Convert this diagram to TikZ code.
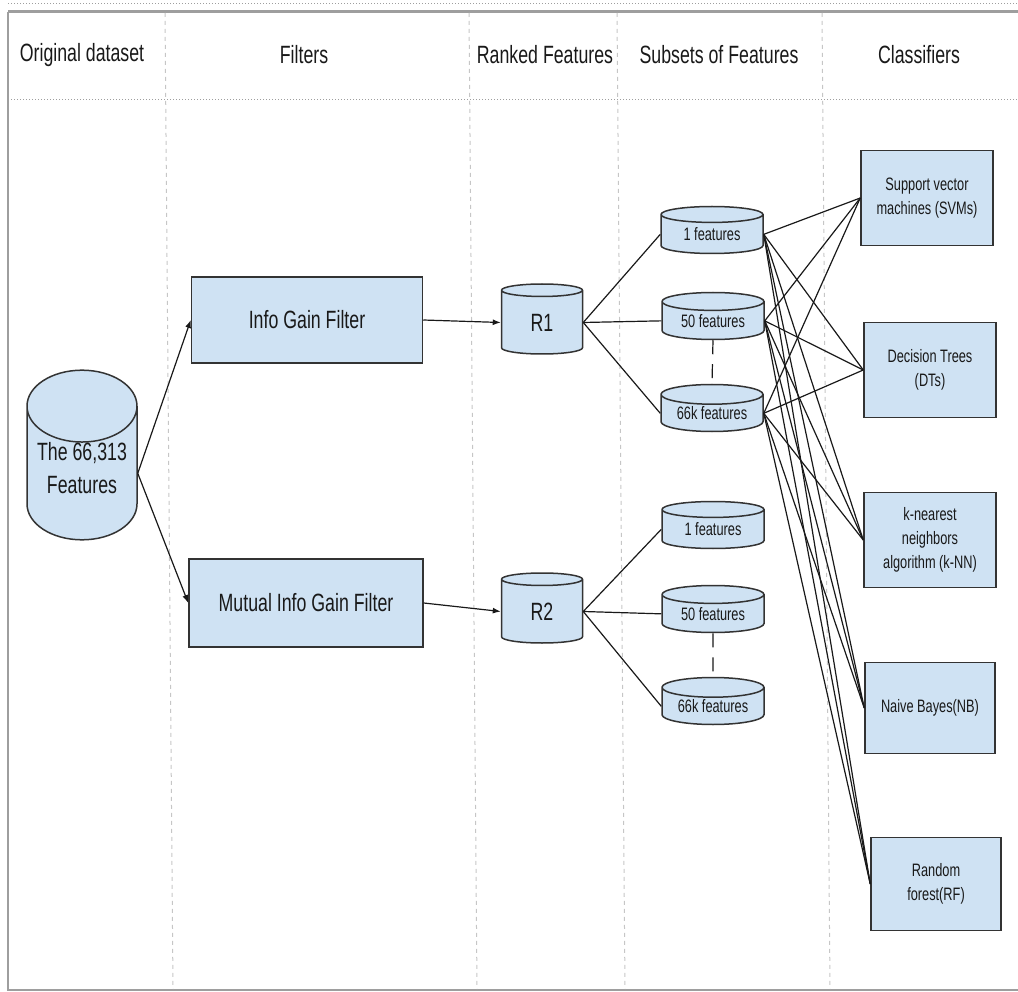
\documentclass[tikz,border=0pt]{standalone}
\usepackage{fontspec}
\setmainfont{Liberation Sans}[FakeStretch=0.71]
\usepackage{tikz}
\usetikzlibrary{
	arrows.meta,
	shapes.geometric,
}
\definecolor{boxblue}{HTML}{CFE2F3}
\definecolor{framegray}{HTML}{9E9E9E}
\tikzset{box node/.style={
	draw=black!80,
	fill=boxblue,
	rectangle,
	line width=1.5pt,
	text=black!90,
	align=center,
	inner sep=0pt,
}}
\tikzset{db node/.style={
	box node,
	cylinder,
	shape border rotate=90,
	anchor=shape center,
}}
\tikzset{big text/.style={
	font=\fontsize{25}{33}\selectfont,
}}
\tikzset{small text/.style={
	font=\fontsize{18}{24}\selectfont,
}}
\tikzset{header/.style={
	big text,
	text=black!90,
}}
\tikzset{link/.style={
	draw=black!90,
	line width=1.2pt,
}}
\tikzset{separator/.style={
	draw=gray!45,
	line width=1pt,
	dash pattern=on 4pt off 4pt,
}}

\begin{document}
\begin{tikzpicture}[x=1pt, y=-1pt]
\useasboundingbox (0,0) rectangle (1018,992);

% frame
\draw[framegray, line width=1pt, dotted] (8,4) -- (1018,4);
\draw[framegray, line width=3pt] (8,12) -- (1018,12);
\draw[framegray, line width=2.5pt] (8,12) -- (8,990) -- (1018,990);
\draw[framegray, line width=1pt, dotted] (8,100) -- (1018,100);

% column separators
\foreach \x in {165,469,617,822}
	\draw[separator] (\x,13) -- (\x+8,989);

% headers
\node[header](hdata) 	at (82,55) {Original dataset};
\node[header](hfilt) 	at (304,55) {Filters};
\node[header](hrank) 	at (545,55) {Ranked Features};
\node[header](hsub) 	at (719,55) {Subsets of Features};
\node[header](hclass) 	at (919,55) {Classifiers};

% dataset
\node[db node, big text, minimum width=110, minimum height=160, aspect=0.8, text depth=10pt](data) at (82,455) {The 66,313\\Features};

% filters
\node[box node, big text, minimum width=231, minimum height=86](igf) 	at (307,320) {Info Gain Filter};
\node[box node, big text, minimum width=234, minimum height=88](migf) 	at (306,603) {Mutual Info Gain Filter};

% ranked features
\node[db node, big text, minimum width=81, minimum height=70, aspect=0.55](r1) at (542,319) {R1};
\node[db node, big text, minimum width=81, minimum height=70, aspect=0.55](r2) at (542,608) {R2};

% subsets
\tikzset{subset/.style={db node, small text, minimum width=102, minimum height=47, aspect=0.28}}
\node[subset](a1) 	at (712,230) {1 features};
\node[subset](a50) 	at (713,316) {50 features};
\node[subset](a66) 	at (712,408) {66k features};
\node[subset](b1) 	at (713,525) {1 features};
\node[subset](b50) 	at (713,609) {50 features};
\node[subset](b66) 	at (713,701) {66k features};

% classifiers
\tikzset{classifier/.style={box node, small text, minimum width=132, minimum height=95}}
\node[classifier](svm) 	at (927,198) {Support vector\\machines (SVMs)};
\node[classifier](dt) 	at (930,370) {Decision Trees\\(DTs)};
\node[classifier](knn) 	at (930,540) {k-nearest\\neighbors\\algorithm (k-NN)};
\node[classifier, minimum width=130, minimum height=91](nb) 	at (930,708) {Naive Bayes(NB)};
\node[classifier, minimum width=130, minimum height=93](rf) 	at (936,884) {Random\\forest(RF)};

% dataset -> filters -> ranked
\draw[link, -{Latex[length=8pt, width=6pt]}] (data.east) -- (igf.west);
\draw[link, -{Latex[length=8pt, width=6pt]}] (data.east) -- (migf.west);
\draw[link, -{Latex[length=8pt, width=6pt]}] (igf.east) -- (r1.west);
\draw[link, -{Latex[length=8pt, width=6pt]}] (migf.east) -- (r2.west);

% ranked -> subsets
\foreach \s in {a1,a50,a66}
	\draw[link] (r1.east) -- (\s.west);
\foreach \s in {b1,b50,b66}
	\draw[link] (r2.east) -- (\s.west);
\draw[link, dash pattern=on 14pt off 10pt] (a50.south) -- (a66.north);
\draw[link, dash pattern=on 14pt off 10pt] (b50.south) -- (b66.north);

% subsets -> classifiers
\foreach \s in {a1,a50,a66}
	\foreach \c in {svm,dt,knn,nb,rf}
		\draw[link] (\s.east) -- (\c.west);

\end{tikzpicture}
\end{document}
